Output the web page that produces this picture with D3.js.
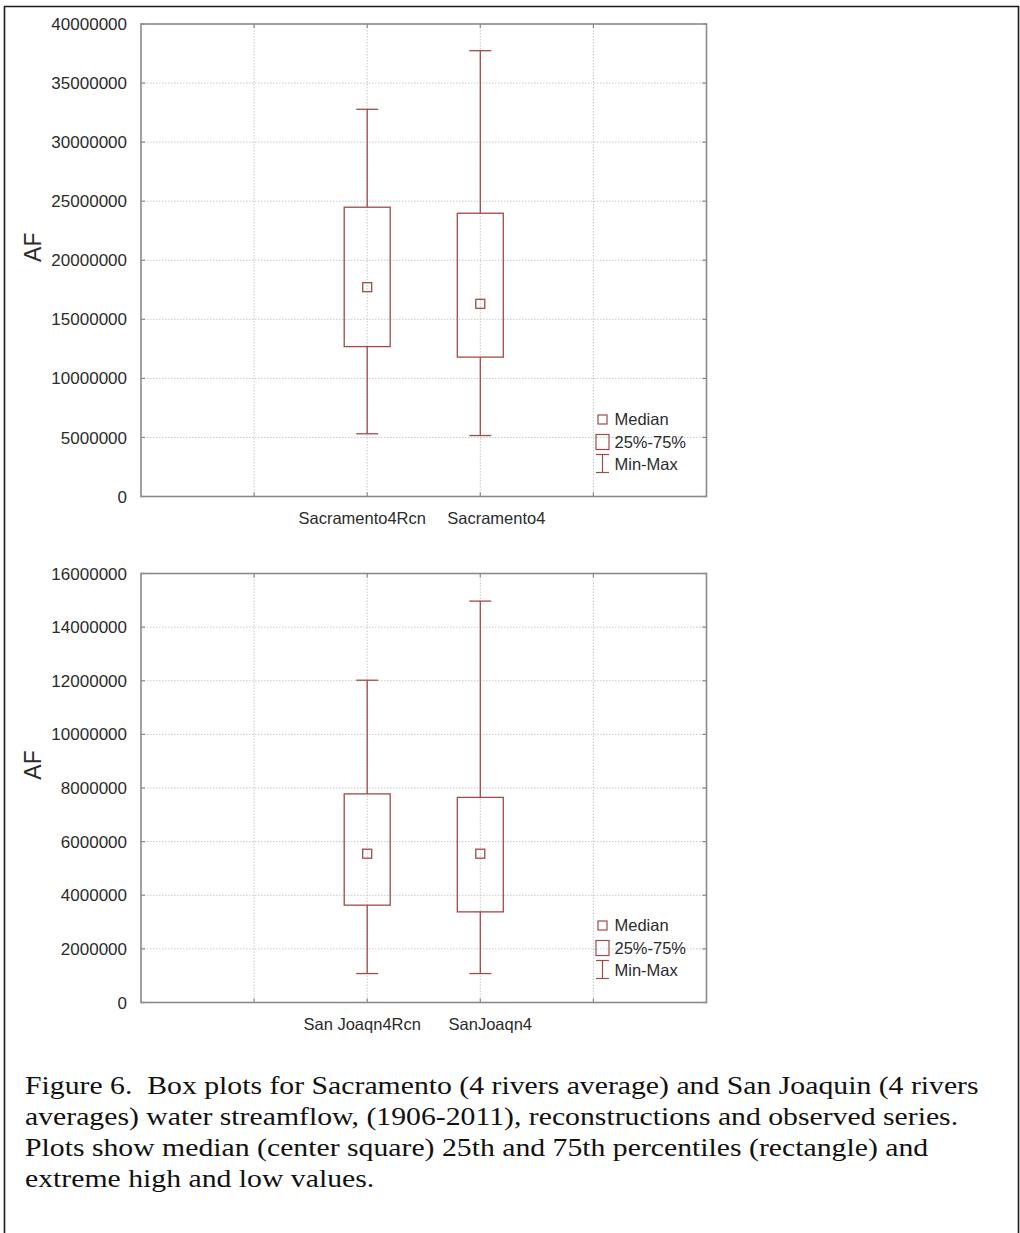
<!DOCTYPE html>
<html>
<head>
<meta charset="utf-8">
<script src="https://cdn.jsdelivr.net/npm/d3@7"></script>
<style>
  html, body { margin: 0; padding: 0; background: #fff; }
  svg { display: block; }
  .caption text { white-space: pre; }
</style>
</head>
<body>
<svg id="fig" width="1020" height="1233"></svg>
<script>
// ---- Data: Sacramento (4 rivers average) ----
const sacCategories = ["Sacramento4Rcn", "Sacramento4"];
const sacMin    = [5310000, 5160000];
const sacQ1     = [12690000, 11800000];
const sacMedian = [17720000, 16310000];
const sacQ3     = [24490000, 23980000];
const sacMax    = [32780000, 37740000];
const sacTicks  = [0, 5000000, 10000000, 15000000, 20000000, 25000000, 30000000, 35000000, 40000000];

// ---- Data: San Joaquin (4 rivers averages) ----
const sjCategories = ["San Joaqn4Rcn", "SanJoaqn4"];
const sjMin    = [1080000, 1080000];
const sjQ1     = [3630000, 3380000];
const sjMedian = [5550000, 5550000];
const sjQ3     = [7780000, 7650000];
const sjMax    = [12020000, 14970000];
const sjTicks  = [0, 2000000, 4000000, 6000000, 8000000, 10000000, 12000000, 14000000, 16000000];

const yLabel = "AF";
const legendLabels = ["Median", "25%-75%", "Min-Max"];
const captionLines = [
  "Figure 6.  Box plots for Sacramento (4 rivers average) and San Joaquin (4 rivers",
  "averages) water streamflow, (1906-2011), reconstructions and observed series.",
  "Plots show median (center square) 25th and 75th percentiles (rectangle) and",
  "extreme high and low values."
];

// ---- Styling ----
const BOX_COLOR = "#9e4b4b";
const FRAME_COLOR = "#8a8a8a";
const GRID_COLOR = "#c9c9c9";
const TEXT_COLOR = "#2b2b2b";
const SANS = "'Liberation Sans', Arial, Helvetica, sans-serif";
const SERIF = "'Liberation Serif', 'Times New Roman', Times, serif";

const svg = d3.select("#fig");

// Page frame (text-box border)
svg.append("path")
  .attr("d", "M4.5,1233 V6.5 H1018.5 V1233")
  .attr("fill", "none").attr("stroke", "#1a1a1a").attr("stroke-width", 1.6);

function drawPanel(cfg) {
  const g = svg.append("g");
  const x = d3.scaleLinear().domain([0, 5]).range([cfg.left, cfg.right]);
  const y = d3.scaleLinear().domain([cfg.ticks[0], cfg.ticks[cfg.ticks.length - 1]])
    .range([cfg.bottom, cfg.top]);
  const slots = [1, 2, 3, 4];
  const catPos = [2, 3];

  // dotted grid
  g.append("g").selectAll("line.h").data(cfg.ticks.slice(1, -1)).join("line")
    .attr("x1", cfg.left).attr("x2", cfg.right)
    .attr("y1", d => y(d)).attr("y2", d => y(d))
    .attr("stroke", GRID_COLOR).attr("stroke-width", 1).attr("stroke-dasharray", "1.5,1.5");
  g.append("g").selectAll("line.v").data(slots).join("line")
    .attr("x1", d => x(d)).attr("x2", d => x(d))
    .attr("y1", cfg.top).attr("y2", cfg.bottom)
    .attr("stroke", GRID_COLOR).attr("stroke-width", 1).attr("stroke-dasharray", "1.5,1.5");

  // plot frame
  g.append("rect")
    .attr("x", cfg.left).attr("y", cfg.top)
    .attr("width", cfg.right - cfg.left).attr("height", cfg.bottom - cfg.top)
    .attr("fill", "none").attr("stroke", FRAME_COLOR).attr("stroke-width", 1.6);

  // inward ticks on all four sides
  const tl = 4;
  const tickG = g.append("g").attr("stroke", FRAME_COLOR).attr("stroke-width", 1.2);
  tickG.selectAll("line.l").data(cfg.ticks).join("line")
    .attr("x1", cfg.left).attr("x2", cfg.left + tl).attr("y1", d => y(d)).attr("y2", d => y(d));
  tickG.selectAll("line.r").data(cfg.ticks).join("line")
    .attr("x1", cfg.right).attr("x2", cfg.right - tl).attr("y1", d => y(d)).attr("y2", d => y(d));
  tickG.selectAll("line.t").data(slots).join("line")
    .attr("x1", d => x(d)).attr("x2", d => x(d)).attr("y1", cfg.top).attr("y2", cfg.top + tl);
  tickG.selectAll("line.b").data(slots).join("line")
    .attr("x1", d => x(d)).attr("x2", d => x(d)).attr("y1", cfg.bottom).attr("y2", cfg.bottom - tl);

  // y tick labels
  g.append("g").selectAll("text").data(cfg.ticks).join("text")
    .attr("x", cfg.left - 14).attr("y", d => y(d)).attr("dy", "0.36em")
    .attr("text-anchor", "end")
    .attr("font-family", SANS).attr("font-size", 17).attr("fill", TEXT_COLOR)
    .text(d => d3.format("d")(d));

  // y axis title
  g.append("text")
    .attr("transform", `translate(${cfg.left - 100},${(cfg.top + cfg.bottom) / 2 + cfg.titleShift}) rotate(-90)`)
    .attr("text-anchor", "middle")
    .attr("font-family", SANS).attr("font-size", 23).attr("fill", TEXT_COLOR)
    .text(yLabel);

  // category labels
  g.append("g").selectAll("text").data(cfg.categories).join("text")
    .attr("x", (d, i) => x(catPos[i]) + cfg.labelShift[i])
    .attr("y", cfg.bottom + 27)
    .attr("text-anchor", "middle")
    .attr("font-family", SANS).attr("font-size", 16.5).attr("fill", TEXT_COLOR)
    .text(d => d);

  // boxes
  const boxW = 46, capW = 22, medS = 9;
  const rows = cfg.categories.map((c, i) => ({
    pos: catPos[i], min: cfg.min[i], q1: cfg.q1[i], med: cfg.median[i], q3: cfg.q3[i], max: cfg.max[i]
  }));
  const bg = g.append("g").attr("stroke", BOX_COLOR).attr("stroke-width", 1.3).attr("fill", "none");
  const b = bg.selectAll("g").data(rows).join("g");
  b.append("line").attr("x1", d => x(d.pos)).attr("x2", d => x(d.pos))
    .attr("y1", d => y(d.max)).attr("y2", d => y(d.q3));
  b.append("line").attr("x1", d => x(d.pos)).attr("x2", d => x(d.pos))
    .attr("y1", d => y(d.q1)).attr("y2", d => y(d.min));
  b.append("line").attr("x1", d => x(d.pos) - capW / 2).attr("x2", d => x(d.pos) + capW / 2)
    .attr("y1", d => y(d.max)).attr("y2", d => y(d.max));
  b.append("line").attr("x1", d => x(d.pos) - capW / 2).attr("x2", d => x(d.pos) + capW / 2)
    .attr("y1", d => y(d.min)).attr("y2", d => y(d.min));
  b.append("rect").attr("x", d => x(d.pos) - boxW / 2).attr("y", d => y(d.q3))
    .attr("width", boxW).attr("height", d => y(d.q1) - y(d.q3)).attr("fill", "none");
  b.append("rect").attr("x", d => x(d.pos) - medS / 2).attr("y", d => y(d.med) - medS / 2)
    .attr("width", medS).attr("height", medS).attr("fill", "none");

  // legend
  const lx = cfg.right - 104, tx = cfg.right - 92, yb = cfg.bottom;
  const lg = g.append("g");
  const ls = lg.append("g").attr("stroke", BOX_COLOR).attr("stroke-width", 1.2).attr("fill", "none");
  ls.append("rect").attr("x", lx - 4.5).attr("y", yb - 77 - 4.5).attr("width", 9).attr("height", 9);
  ls.append("rect").attr("x", lx - 6.5).attr("y", yb - 62).attr("width", 13).attr("height", 15);
  ls.append("line").attr("x1", lx).attr("x2", lx).attr("y1", yb - 42).attr("y2", yb - 24);
  ls.append("line").attr("x1", lx - 6.5).attr("x2", lx + 6.5).attr("y1", yb - 42).attr("y2", yb - 42);
  ls.append("line").attr("x1", lx - 6.5).attr("x2", lx + 6.5).attr("y1", yb - 24).attr("y2", yb - 24);
  lg.selectAll("text").data(legendLabels).join("text")
    .attr("x", tx).attr("y", (d, i) => yb - [72, 49, 27][i])
    .attr("font-family", SANS).attr("font-size", 16.5).attr("fill", TEXT_COLOR)
    .text(d => d);
}

drawPanel({
  left: 141, right: 706.5, top: 24, bottom: 496.5, titleShift: -13,
  ticks: sacTicks, categories: sacCategories, labelShift: [-5, 16],
  min: sacMin, q1: sacQ1, median: sacMedian, q3: sacQ3, max: sacMax
});

drawPanel({
  left: 141, right: 706.5, top: 573.5, bottom: 1002.5, titleShift: -23,
  ticks: sjTicks, categories: sjCategories, labelShift: [-5, 10],
  min: sjMin, q1: sjQ1, median: sjMedian, q3: sjQ3, max: sjMax
});

// caption: set in Times, widened so the first line spans the text-box width
const captionLeft = 25, captionWidth = 954;
const cap = svg.append("g").attr("class", "caption");
const capText = cap.selectAll("text").data(captionLines).join("text")
  .attr("x", 0).attr("y", (d, i) => 1094 + i * 31)
  .attr("font-family", SERIF).attr("font-size", 26).attr("fill", "#111")
  .text(d => d);
const firstW = capText.node().getComputedTextLength();
cap.attr("transform", `translate(${captionLeft},0) scale(${captionWidth / firstW},1)`);
</script>
</body>
</html>
